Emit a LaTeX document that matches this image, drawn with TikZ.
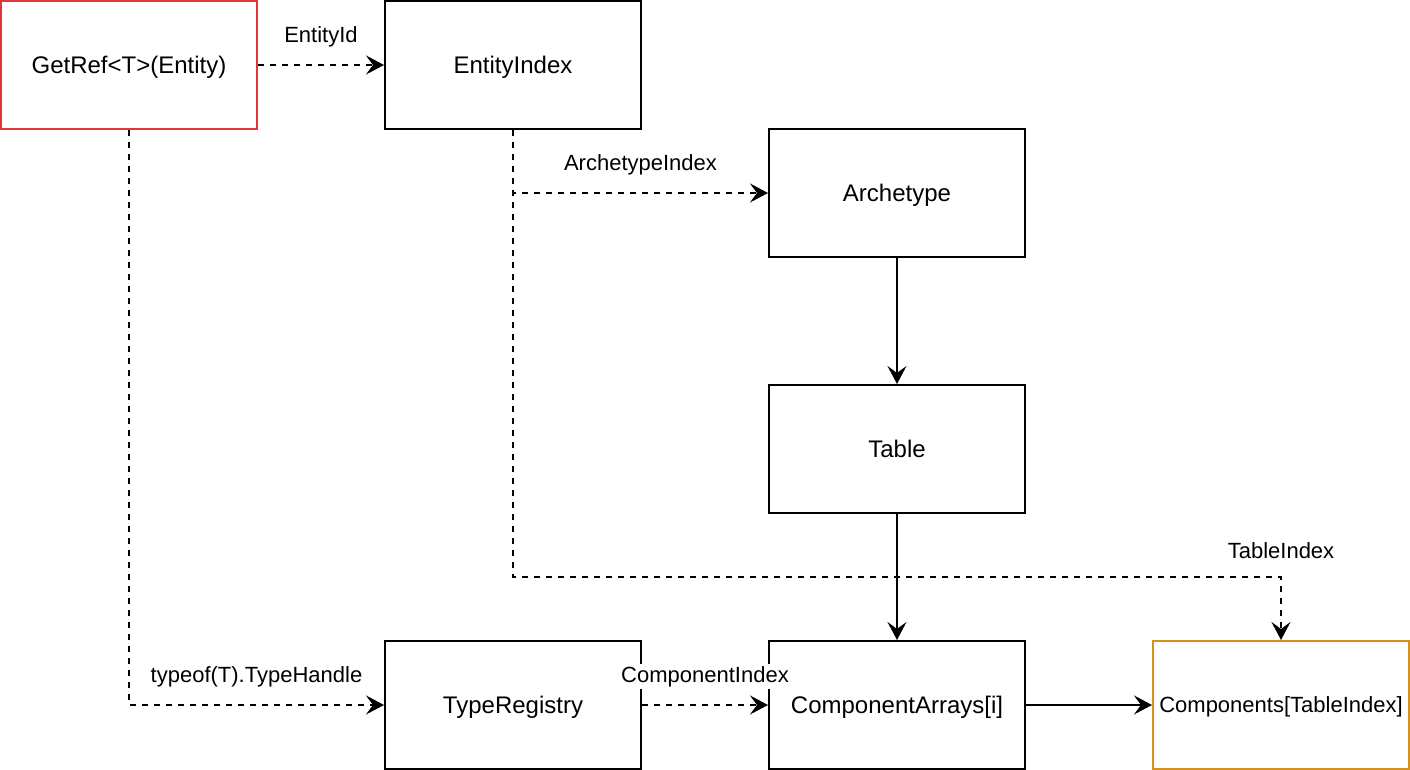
\documentclass[tikz,border=0pt]{standalone}
\usepackage{fontspec}
\setmainfont{Liberation Sans}
\usetikzlibrary{arrows.meta}
\definecolor{refred}{RGB}{224,52,56}
\definecolor{reforange}{RGB}{215,145,30}
\begin{document}
\begin{tikzpicture}[x=0.5pt, y=-0.5pt, >={Stealth[length=9pt, width=9.5pt, inset=3.5pt]},
    box/.style={draw, line width=1pt, minimum width=128pt, minimum height=64pt, inner sep=2pt,
        text height=10.8pt, text depth=2.4pt, font=\fontsize{12}{14}\selectfont},
    lbl/.style={fill=white, inner sep=1pt, font=\fontsize{11}{13}\selectfont},
    link/.style={->, line width=1pt, dash pattern=on 3pt off 3pt}]
    \useasboundingbox (0,0) rectangle (1410,770);

    % Nodes of the lookup path
    \node[box, draw=refred] (getref) at (129, 65) {GetRef<T>(Entity)};
    \node[box] (entityindex) at (513, 65) {EntityIndex};
    \node[box] (archetype) at (897, 193) {Archetype};
    \node[box] (table) at (897, 449) {Table};
    \node[box] (typeregistry) at (513, 705) {TypeRegistry};
    \node[box] (comparrays) at (897, 705) {ComponentArrays[i]};
    \node[box, draw=reforange, text height=9.9pt, text depth=2.2pt, font=\fontsize{11}{13}\selectfont] (components) at (1281, 705) {Components[TableIndex]};
    \coordinate (tcorner) at (1281, 577);

    % Edges with the keys passed along
    \draw[link] (getref) -- (entityindex) node[midway, above=7.5pt, lbl] {EntityId};
    \draw[link] (entityindex.south) |- (archetype.west) node[pos=0.75, above=7.5pt, lbl] {ArchetypeIndex};
    \draw[->, line width=1pt] (archetype) -- (table);
    \draw[->, line width=1pt] (table) -- (comparrays);
    \draw[link] (entityindex.south) |- (tcorner) node[above=7.5pt, lbl] {TableIndex} -- (components.north);
    \draw[link] (getref.south) |- (typeregistry.west) node[pos=0.75, above=7.5pt, lbl] {typeof(T).TypeHandle};
    \draw[link] (typeregistry) -- (comparrays) node[midway, above=7.5pt, lbl] {ComponentIndex};
    \draw[->, line width=1pt] (comparrays) -- (components);
\end{tikzpicture}
\end{document}
